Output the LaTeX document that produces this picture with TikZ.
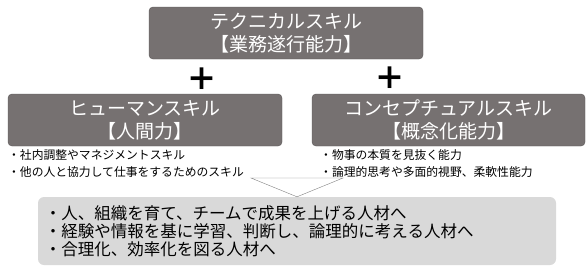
\documentclass[tikz,border=0pt]{standalone}
\usepackage{fontspec}
\setmainfont{Noto Sans CJK JP}
\usetikzlibrary{positioning}
\definecolor{skillgray}{HTML}{767171}
\definecolor{skilledge}{HTML}{5A5656}
\definecolor{resultgray}{HTML}{D9D9D9}
\definecolor{tipgray}{HTML}{808080}

\begin{document}
\begin{tikzpicture}[x=1pt,y=-1pt,
skill/.style={rectangle,rounded corners=4pt,draw=skilledge,fill=skillgray,
  text=white,align=center,inner sep=0pt,minimum height=52pt,
  font=\fontsize{19}{23}\selectfont},
plus/.style={inner sep=0pt,font=\fontsize{31}{31}\selectfont\bfseries},
note/.style={anchor=west,align=left,inner sep=0pt,
  font=\fontsize{11.8}{17}\selectfont},
result/.style={rectangle,rounded corners=6pt,fill=resultgray,align=left,
  inner xsep=7pt,inner ysep=0pt,text width=504pt,minimum height=68pt,
  font=\fontsize{16.5}{18}\selectfont}]
\useasboundingbox (0,0) rectangle (587,269);

\node[skill,minimum width=274pt] (tech) at (286,33)
  {テクニカルスキル\\【業務遂行能力】};
\node[skill,minimum width=274pt] (human) at (145,120)
  {ヒューマンスキル\\【人間力】};
\node[skill,minimum width=273pt] (concept) at (448.5,120)
  {コンセプチュアルスキル\\【概念化能力】};

\node[plus] (plusL) at (202,79) {＋};
\node[plus] (plusR) at (390,78) {＋};

\node[note] (humanNote) at (8,163.5)
  {・社内調整やマネジメントスキル\\・他の人と協力して仕事をするためのスキル};
\node[note] (conceptNote) at (320,163.5)
  {・物事の本質を見抜く能力\\・論理的思考や多面的視野、柔軟性能力};

\node[result] (goal) at (297,231)
  {・人、組織を育て、チームで成果を上げる人材へ\\
   ・経験や情報を基に学習、判断し、論理的に考える人材へ\\
   ・合理化、効率化を図る人材へ};

\coordinate (tipL) at (251,178);
\coordinate (tipR) at (343,178);
\draw[tipgray,fill=white] (tipL) -- (tipR) -- (goal.north) -- cycle;
\end{tikzpicture}
\end{document}
